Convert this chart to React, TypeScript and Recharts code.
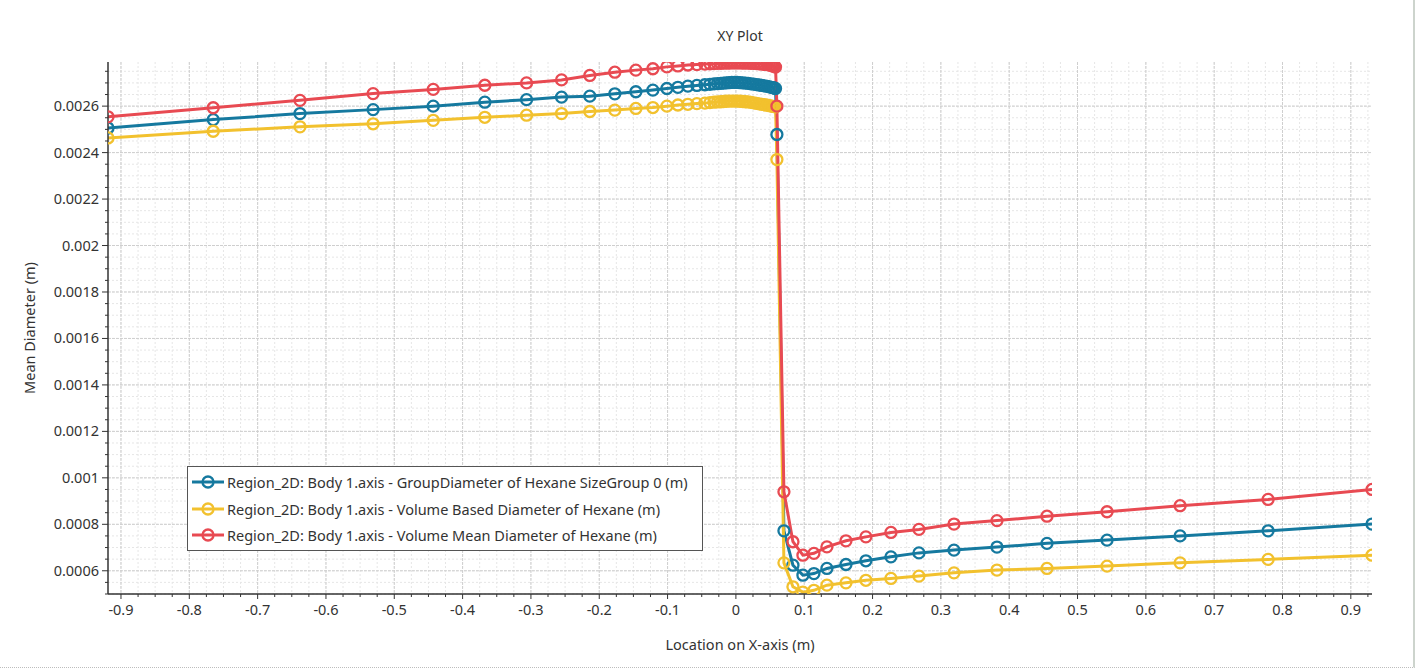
import React from 'react';
import { LineChart, Line, XAxis, YAxis, CartesianGrid, Label } from 'recharts';

// sample locations along the axis (m)
const xLocation = [
  -0.919, -0.765, -0.638, -0.531, -0.443, -0.3675, -0.3064, -0.2552, -0.2138, -0.1772,
  -0.1464, -0.1215, -0.101, -0.0849, -0.0703, -0.0571, -0.0454,
  -0.038, -0.032, -0.027, -0.022, -0.018, -0.014, -0.01, -0.006, -0.002, 0.002,
  0.006, 0.01, 0.014, 0.018, 0.022, 0.026, 0.03, 0.034, 0.038, 0.042,
  0.046, 0.049, 0.052, 0.054, 0.056, 0.058,
  0.06, 0.0703, 0.0835, 0.0981, 0.1142, 0.1332, 0.1611, 0.1903, 0.2269, 0.2679,
  0.3192, 0.3821, 0.4553, 0.5432, 0.6501, 0.7789, 0.931,
];

const groupDiameter = [
  0.002506, 0.002542, 0.002568, 0.002585, 0.0026, 0.002617, 0.002628, 0.002639, 0.002643, 0.002653,
  0.002662, 0.002669, 0.002676, 0.002681, 0.002686, 0.002689, 0.002692,
  0.002694, 0.002696, 0.002697, 0.002698, 0.002699, 0.0027, 0.002701, 0.002702, 0.002702, 0.002702,
  0.002701, 0.0027, 0.002699, 0.002698, 0.002696, 0.002695, 0.002693, 0.002691, 0.002689, 0.002687,
  0.002685, 0.002683, 0.002681, 0.00268, 0.002678, 0.002676,
  0.002478, 0.000772, 0.000624, 0.000581, 0.000588, 0.00061, 0.000627, 0.000643, 0.00066, 0.000677,
  0.000689, 0.000702, 0.000718, 0.000732, 0.00075, 0.000772, 0.000801,
];

const volumeBasedDiameter = [
  0.002463, 0.002492, 0.002511, 0.002524, 0.002539, 0.002552, 0.002561, 0.002568, 0.002577, 0.002583,
  0.00259, 0.002594, 0.0026, 0.002605, 0.002608, 0.002611, 0.002613,
  0.002615, 0.002617, 0.002618, 0.002619, 0.00262, 0.002621, 0.002622, 0.002622, 0.002622, 0.002622,
  0.002621, 0.00262, 0.002619, 0.002618, 0.002616, 0.002614, 0.002612, 0.00261, 0.002608, 0.002606,
  0.002604, 0.002602, 0.0026, 0.002599, 0.002598, 0.002597,
  0.00237, 0.000634, 0.000531, 0.000508, 0.000516, 0.000538, 0.000548, 0.000559, 0.000567, 0.000577,
  0.000591, 0.000603, 0.00061, 0.00062, 0.000634, 0.000649, 0.000667,
];

const volumeMeanDiameter = [
  0.002554, 0.002593, 0.002625, 0.002654, 0.002672, 0.00269, 0.0027, 0.002713, 0.002732, 0.002746,
  0.002755, 0.002761, 0.002769, 0.002773, 0.002777, 0.002779, 0.002781,
  0.002782, 0.002783, 0.002784, 0.002784, 0.002785, 0.002785, 0.002785, 0.002786, 0.002786, 0.002786,
  0.002786, 0.002785, 0.002785, 0.002785, 0.002784, 0.002784, 0.002783, 0.002782, 0.002781, 0.00278,
  0.002779, 0.002777, 0.002775, 0.002773, 0.002771, 0.002768,
  0.0026, 0.00094, 0.000725, 0.000667, 0.000675, 0.000703, 0.000729, 0.000746, 0.000765, 0.000778,
  0.000801, 0.000816, 0.000835, 0.000854, 0.00088, 0.000907, 0.00095,
];

const seriesNames = [
  'Region_2D: Body 1.axis - GroupDiameter of Hexane SizeGroup 0 (m)',
  'Region_2D: Body 1.axis - Volume Based Diameter of Hexane (m)',
  'Region_2D: Body 1.axis - Volume Mean Diameter of Hexane (m)',
];
const seriesKeys = ['group', 'volBased', 'volMean'];
const COLORS = ['#15799f', '#f2c12e', '#e84a52'];

const xMajorTicks = [-0.9, -0.8, -0.7, -0.6, -0.5, -0.4, -0.3, -0.2, -0.1, 0, 0.1, 0.2, 0.3, 0.4, 0.5, 0.6, 0.7, 0.8, 0.9];
const yMajorTicks = [0.0006, 0.0008, 0.001, 0.0012, 0.0014, 0.0016, 0.0018, 0.002, 0.0022, 0.0024, 0.0026];

const X_DOMAIN: [number, number] = [-0.919, 0.931];
const Y_DOMAIN: [number, number] = [0.0005, 0.00279];

// minor ticks: 0.025 in x, 0.00005 in y
const xMinorTicks: number[] = [];
for (let i = -36; i <= 37; i++) xMinorTicks.push((i * 25) / 1000);
const yMinorTicks: number[] = [];
for (let i = 10; i <= 55; i++) yMinorTicks.push((i * 5) / 100000);

const isXMajor = (v: number) => Math.round(v * 1000) % 100 === 0;
const isYMajor = (v: number) => Math.round(v * 100000) % 20 === 0;

const data = xLocation.map((x, i) => ({
  x,
  group: groupDiameter[i],
  volBased: volumeBasedDiameter[i],
  volMean: volumeMeanDiameter[i],
}));

const TEXT = '#333';
const FONT = '"Noto Sans", "Open Sans", sans-serif';
const FS = 14.5;

const XTick = (props: any) => {
  const { x, y, payload } = props;
  const major = isXMajor(payload.value);
  return (
    <g>
      <line x1={x} x2={x} y1={y} y2={y + (major ? 5 : 3)} stroke="#333" strokeWidth={1} />
      {major && (
        <text x={x} y={y + 21} textAnchor="middle" fill={TEXT} fontSize={FS}>
          {String(Math.round(payload.value * 10) / 10)}
        </text>
      )}
    </g>
  );
};

const YTick = (props: any) => {
  const { x, y, payload } = props;
  const major = isYMajor(payload.value);
  return (
    <g>
      <line x1={x - (major ? 6 : 3)} x2={x} y1={y} y2={y} stroke="#333" strokeWidth={1} />
      {major && (
        <text x={x - 9} y={y} dy={5} textAnchor="end" fill={TEXT} fontSize={FS}>
          {String(payload.value)}
        </text>
      )}
    </g>
  );
};

const App: React.FC = () => {
  return (
    <div
      style={{
        position: 'absolute',
        left: 0,
        top: 0,
        width: 1415,
        height: 668,
        background: '#fff',
        fontFamily: FONT,
        boxSizing: 'border-box',
        borderBottom: '1px dotted #bdbdbd',
        borderRight: '2px solid #cdd4cd',
      }}
    >
      <div style={{ position: 'absolute', left: 640, width: 200, top: 26, textAlign: 'center', fontSize: 14, color: TEXT }}>
        XY Plot
      </div>
      <LineChart width={1415} height={668} data={data} margin={{ top: 62, right: 43, bottom: 0, left: 0 }}>
        <CartesianGrid
          verticalValues={xMinorTicks}
          horizontalValues={yMinorTicks}
          stroke="#e6e6e6"
          strokeDasharray="2 2"
        />
        <CartesianGrid
          verticalValues={xMajorTicks}
          horizontalValues={yMajorTicks}
          stroke="#cfcfcf"
          strokeDasharray="3 1"
        />
        <XAxis
          type="number"
          dataKey="x"
          domain={X_DOMAIN}
          allowDataOverflow
          ticks={xMinorTicks}
          interval={0}
          height={74}
          tickSize={0}
          tickMargin={0}
          tickLine={false}
          tick={<XTick />}
          axisLine={{ stroke: '#333', strokeWidth: 1.5 }}
        >
          <Label value="Location on X-axis (m)" position="insideBottom" offset={18} fill={TEXT} fontSize={FS} />
        </XAxis>
        <YAxis
          type="number"
          domain={Y_DOMAIN}
          allowDataOverflow
          ticks={yMinorTicks}
          interval={0}
          width={108}
          tickSize={0}
          tickMargin={0}
          tickLine={false}
          tick={<YTick />}
          axisLine={{ stroke: '#333', strokeWidth: 1.5 }}
        >
          <Label
            value="Mean Diameter (m)"
            angle={-90}
            position="insideLeft"
            offset={30}
            fill={TEXT}
            fontSize={FS}
            style={{ textAnchor: 'middle' }}
          />
        </YAxis>
        {seriesKeys.map((k, i) => (
          <Line
            key={k}
            type="linear"
            dataKey={k}
            name={seriesNames[i]}
            stroke={COLORS[i]}
            strokeWidth={3}
            dot={{ r: 5.5, fill: 'none', stroke: COLORS[i], strokeWidth: 2.3 }}
            activeDot={false}
            isAnimationActive={false}
          />
        ))}
      </LineChart>
      <div
        style={{
          position: 'absolute',
          left: 187,
          top: 466,
          width: 516,
          height: 85,
          border: '1.5px solid #555',
          background: '#fff',
          boxSizing: 'border-box',
          padding: '2px 0 0 4px',
        }}
      >
        {seriesNames.map((name, i) => (
          <div key={name} style={{ display: 'flex', alignItems: 'center', height: 26.5 }}>
            <svg width={32} height={14}>
              <line x1={0} x2={32} y1={7} y2={7} stroke={COLORS[i]} strokeWidth={3} />
              <circle cx={16} cy={7} r={5.5} fill="none" stroke={COLORS[i]} strokeWidth={2.3} />
            </svg>
            <span style={{ marginLeft: 3, fontSize: FS, color: TEXT, whiteSpace: 'nowrap' }}>{name}</span>
          </div>
        ))}
      </div>
    </div>
  );
};

export default App;
